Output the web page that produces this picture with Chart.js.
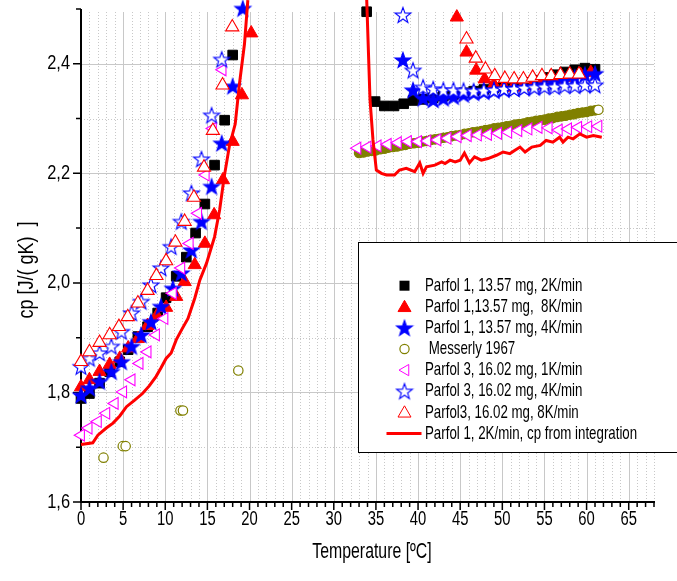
<!DOCTYPE html>
<html>
<head>
<meta charset="utf-8">
<script src="https://cdn.jsdelivr.net/npm/chart.js@4/dist/chart.umd.min.js"></script>
<style>
html,body{margin:0;padding:0;background:#fff;}
#wrap{width:677px;height:581px;position:relative;}
</style>
</head>
<body>
<div id="wrap"><canvas id="c"></canvas></div>
<script>
// ---------- DATA ----------
const xTickValues = [0,5,10,15,20,25,30,35,40,45,50,55,60,65];
const xTickLabels = ['0','5','10','15','20','25','30','35','40','45','50','55','60','65'];
const yTickValues = [1.6,1.8,2.0,2.2,2.4];
const yTickLabels = ['1,6','1,8','2,0','2,2','2,4'];
const xTitle = 'Temperature [ºC]';
const yTitle = 'cp [J/( gK)  ]';

const legendLabels = [
  'Parfol 1, 13.57 mg, 2K/min',
  'Parfol 1,13.57 mg,  8K/min',
  'Parfol 1, 13.57 mg, 4K/min',
  ' Messerly 1967',
  'Parfol 3, 16.02 mg, 1K/min',
  'Parfol 3, 16.02 mg, 4K/min',
  'Parfol3, 16.02 mg, 8K/min',
  'Parfol 1, 2K/min, cp from integration'
];

// Parfol 1, 13.57 mg, 2K/min (black squares)
const p1_2K = [[0,1.789],[1.0,1.798],[2.2,1.817],[3.4,1.838],[4.6,1.856],[5.6,1.878],[6.75,1.902],[7.9,1.920],[9.1,1.945],[10.1,1.973],[11.3,2.012],[12.5,2.047],[13.6,2.091],[14.7,2.144],[15.85,2.215],[17.05,2.297],[18.0,2.416],
  [33.9,2.495],[34.9,2.331],[36.0,2.323],[37.15,2.323],[38.3,2.327],[39.4,2.333],[40.6,2.335],[41.8,2.338],[43.0,2.341],[44.2,2.344],[45.4,2.347],[46.6,2.350],[47.8,2.353],[49.0,2.356],[50.2,2.359],[51.4,2.362],[52.6,2.366],[53.8,2.370],[55.0,2.375],[56.2,2.380],[57.4,2.385],[58.6,2.389],[59.8,2.392],[61.0,2.390]];

// Parfol 1,13.57 mg, 8K/min (red filled triangles)
const p1_8K = [[0,1.810],[1.0,1.823],[2.2,1.838],[3.4,1.851],[4.6,1.862],[5.6,1.881],[6.75,1.898],[7.9,1.922],[9.0,1.940],[10.1,1.955],[11.3,1.975],[12.3,2.002],[13.5,2.033],[14.7,2.072],[15.8,2.124],[16.85,2.188],[18.0,2.258],[19.1,2.343],[20.2,2.456],
  [44.6,2.485],[45.75,2.421],[46.9,2.388],[47.9,2.372],[49.0,2.362],[50.2,2.358],[51.3,2.357],[52.4,2.358],[53.6,2.360],[54.7,2.362],[55.9,2.366],[57.0,2.370],[58.2,2.375],[59.3,2.380],[60.5,2.384]];

// Parfol 1, 13.57 mg, 4K/min (blue filled stars)
const p1_4K = [[0,1.795],[1.0,1.808],[2.2,1.820],[3.6,1.838],[4.8,1.856],[6.0,1.884],[7.15,1.905],[8.3,1.929],[9.5,1.957],[10.9,1.990],[11.9,2.018],[13.1,2.060],[14.3,2.112],[15.5,2.176],[16.7,2.255],[18.0,2.359],[19.2,2.501],
  [38.2,2.407],[39.4,2.352],[40.6,2.337],[41.8,2.334],[43.0,2.337],[44.2,2.340],[45.4,2.344],[46.6,2.347],[47.8,2.349],[49.0,2.351],[50.2,2.353],[51.4,2.355],[52.6,2.357],[53.8,2.358],[55.0,2.362],[56.2,2.366],[57.4,2.370],[58.6,2.375],[59.8,2.380],[61.0,2.382]];

// Messerly 1967 (olive circles)
const messerly = [[2.67,1.681],[4.96,1.702],[5.3,1.702],[11.8,1.767],[12.1,1.767],[18.67,1.840],
  [33.0,2.237],[33.5,2.238],[34.0,2.240],[34.5,2.241],[35.0,2.242],[35.5,2.244],[36.0,2.245],[36.5,2.247],[37.0,2.248],[37.5,2.249],[38.0,2.251],[38.5,2.252],[39.0,2.254],[39.5,2.255],[40.0,2.256],[40.5,2.258],[41.0,2.259],[41.5,2.261],[42.0,2.262],[42.5,2.263],[43.0,2.265],[43.5,2.266],[44.0,2.268],[44.5,2.269],[45.0,2.270],[45.5,2.272],[46.0,2.273],[46.5,2.275],[47.0,2.276],[47.5,2.277],[48.0,2.279],[48.5,2.280],[49.0,2.282],[49.5,2.283],[50.0,2.284],[50.5,2.286],[51.0,2.287],[51.5,2.289],[52.0,2.290],[52.5,2.291],[53.0,2.293],[53.5,2.294],[54.0,2.296],[54.5,2.297],[55.0,2.298],[55.5,2.300],[56.0,2.301],[56.5,2.303],[57.0,2.304],[57.5,2.305],[58.0,2.307],[58.5,2.308],[59.0,2.310],[59.5,2.311],[60.0,2.312],[60.5,2.314],[61.0,2.315],[61.4,2.316]];

// Parfol 3, 16.02 mg, 1K/min (magenta open left triangles)
const p3_1K = [[0,1.722],[0.9,1.735],[2.0,1.747],[3.0,1.762],[4.0,1.780],[5.0,1.801],[6.0,1.823],[6.95,1.853],[7.9,1.874],[8.9,1.905],[9.9,1.935],[10.9,1.981],[11.9,2.027],[12.9,2.072],[13.9,2.127],[14.8,2.197],[15.65,2.282],[16.8,2.389],
  [32.8,2.246],[34.0,2.248],[35.2,2.250],[36.4,2.253],[37.6,2.256],[38.8,2.258],[40.0,2.258],[41.1,2.259],[42.3,2.261],[43.5,2.264],[44.7,2.267],[45.9,2.269],[47.1,2.270],[48.3,2.271],[49.5,2.273],[50.7,2.275],[51.9,2.278],[53.1,2.281],[54.3,2.284],[55.5,2.283],[56.7,2.279],[57.8,2.281],[59.0,2.284],[60.2,2.285],[61.4,2.286]];

// Parfol 3, 16.02 mg, 4K/min (blue open stars)
const p3_4K = [[0,1.847],[1.0,1.862],[2.2,1.872],[3.6,1.884],[4.8,1.911],[6.0,1.945],[7.15,1.966],[8.3,1.996],[9.5,2.027],[10.7,2.066],[11.9,2.112],[13.1,2.164],[14.3,2.226],[15.5,2.306],[16.7,2.408],
  [38.2,2.489],[39.4,2.388],[40.6,2.357],[41.8,2.354],[43.0,2.352],[44.2,2.352],[45.4,2.351],[46.6,2.350],[47.8,2.351],[49.0,2.352],[50.2,2.354],[51.4,2.354],[52.6,2.356],[53.8,2.357],[55.0,2.358],[56.2,2.358],[57.4,2.360],[58.6,2.360],[59.8,2.361],[61.0,2.361]];

// Parfol3, 16.02 mg, 8K/min (red open triangles)
const p3_8K = [[0,1.856],[1.0,1.874],[2.2,1.891],[3.4,1.905],[4.5,1.920],[5.55,1.938],[6.75,1.963],[7.9,1.986],[8.95,2.013],[10.1,2.040],[11.2,2.074],[12.3,2.112],[13.4,2.156],[14.6,2.211],[15.65,2.278],[16.8,2.361],[17.95,2.467],
  [45.75,2.445],[46.85,2.410],[48.0,2.390],[49.1,2.378],[50.3,2.373],[51.4,2.372],[52.5,2.372],[53.6,2.375],[54.7,2.378],[55.8,2.378],[56.9,2.380],[58.0,2.381],[59.1,2.381]];

// Parfol 1, 2K/min, cp from integration (red line; null = gap)
const integ = [[0,1.705],[1.4,1.708],[2.0,1.722],[3.0,1.735],[3.8,1.744],[4.6,1.757],[5.4,1.774],[6.3,1.785],[7.3,1.798],[8.1,1.812],[8.9,1.829],[9.5,1.845],[10.1,1.862],[10.7,1.872],[11.3,1.896],[12.0,1.916],[12.7,1.935],[13.5,1.972],[14.1,2.005],[14.9,2.036],[15.85,2.084],[16.45,2.133],[17.0,2.194],[17.6,2.249],[18.3,2.290],[18.8,2.363],[19.4,2.436],[19.8,2.516],
  [26,null],
  [33.9,2.52],[34.3,2.334],[34.65,2.261],[35.05,2.206],[35.65,2.200],[36.25,2.197],[37.2,2.197],[37.8,2.206],[38.6,2.209],[39.6,2.203],[40.2,2.219],[40.6,2.200],[41.0,2.212],[42.0,2.215],[42.8,2.221],[43.2,2.218],[43.8,2.224],[44.4,2.221],[45.0,2.224],[45.5,2.237],[46.1,2.219],[46.7,2.230],[47.5,2.224],[48.3,2.227],[49.3,2.233],[50.1,2.239],[50.9,2.236],[51.5,2.242],[52.1,2.248],[52.7,2.239],[53.5,2.248],[54.5,2.251],[55.2,2.260],[56.0,2.257],[56.8,2.266],[57.2,2.257],[57.8,2.266],[58.4,2.263],[59.2,2.272],[60.0,2.266],[60.8,2.269],[61.8,2.266]];

// ---------- helpers ----------
const FONT = '"Liberation Sans", Arial, Helvetica, sans-serif';
const RED = '#ff0000', BLUE = '#0000ff', OLIVE = '#808000', MAGENTA = '#ff00ff';
const toXY = a => a.map(p => ({x: p[0], y: p[1]}));

function starPath(ctx, cx, cy, R, r) {
  ctx.beginPath();
  for (let i = 0; i < 10; i++) {
    const a = -Math.PI / 2 + i * Math.PI / 5;
    const rad = i % 2 === 0 ? R : r;
    const px = cx + Math.cos(a) * rad, py = cy + Math.sin(a) * rad;
    if (i === 0) ctx.moveTo(px, py); else ctx.lineTo(px, py);
  }
  ctx.closePath();
}
function makeStar(fill, stroke) {
  const cv = document.createElement('canvas');
  cv.width = 20; cv.height = 20;
  const g = cv.getContext('2d');
  starPath(g, 10, 10.7, 8.3, 3.3);
  g.fillStyle = fill; g.fill();
  g.lineWidth = 1.1; g.strokeStyle = stroke; g.stroke();
  return cv;
}
const starFilled = makeStar(BLUE, BLUE);
const starOpen = makeStar('#ffffff', BLUE);

function triPath(ctx, x, y, r, rotDeg) {
  let rad = rotDeg * Math.PI / 180;
  ctx.beginPath();
  for (let i = 0; i < 3; i++) {
    const px = x + Math.sin(rad) * r, py = y - Math.cos(rad) * r;
    if (i === 0) ctx.moveTo(px, py); else ctx.lineTo(px, py);
    rad += 2 * Math.PI / 3;
  }
  ctx.closePath();
}

function text(ctx, str, x, y, size, sx, align, rot) {
  ctx.save();
  ctx.translate(x, y);
  if (rot) ctx.rotate(rot);
  ctx.scale(sx, 1);
  ctx.font = size + 'px ' + FONT;
  ctx.fillStyle = '#000';
  ctx.textAlign = align;
  ctx.textBaseline = 'middle';
  ctx.fillText(str, 0, 0);
  ctx.restore();
}

// ---------- plugins: grid, axes, legend ----------
const gridPlugin = {
  id: 'gridPlugin',
  beforeDatasetsDraw(chart) {
    const ctx = chart.ctx, xs = chart.scales.x, ys = chart.scales.y, a = chart.chartArea;
    ctx.save();
    for (let v = 1; v <= 68; v++) {
      const px = Math.round(xs.getPixelForValue(v)) + 0.5;
      ctx.beginPath();
      if (v % 5 === 0) { ctx.setLineDash([]); ctx.strokeStyle = '#c8c8c8'; }
      else { ctx.setLineDash([1, 2]); ctx.strokeStyle = '#c8c8c8'; }
      ctx.lineWidth = 1;
      ctx.moveTo(px, a.top + 3); ctx.lineTo(px, a.bottom);
      ctx.stroke();
    }
    for (let k = 17; k <= 24; k++) {
      const py = Math.round(ys.getPixelForValue(k / 10)) + 0.5;
      ctx.beginPath();
      if (k % 2 === 0) { ctx.setLineDash([]); ctx.strokeStyle = '#c8c8c8'; }
      else { ctx.setLineDash([1, 2]); ctx.strokeStyle = '#c8c8c8'; }
      ctx.moveTo(a.left, py); ctx.lineTo(a.right, py);
      ctx.stroke();
    }
    ctx.setLineDash([]);
    ctx.strokeStyle = '#000'; ctx.lineWidth = 2;
    ctx.beginPath();
    ctx.moveTo(a.left, a.top); ctx.lineTo(a.left, a.bottom + 1);
    ctx.moveTo(a.left - 1, a.bottom); ctx.lineTo(a.right + 1, a.bottom);
    ctx.stroke();
    ctx.lineWidth = 1.5;
    ctx.beginPath();
    for (let v = 0; v <= 68; v++) {
      const px = xs.getPixelForValue(v);
      const len = v % 5 === 0 ? 8 : 5;
      ctx.moveTo(px, a.bottom); ctx.lineTo(px, a.bottom + len);
    }
    for (let k = 16; k <= 25; k++) {
      const py = ys.getPixelForValue(k / 10);
      const len = k % 2 === 0 ? 8 : 5;
      ctx.moveTo(a.left, py); ctx.lineTo(a.left - len, py);
    }
    ctx.stroke();
    xTickValues.forEach((v, i) => text(ctx, xTickLabels[i], xs.getPixelForValue(v), a.bottom + 17, 20, 0.74, 'center'));
    yTickValues.forEach((v, i) => text(ctx, yTickLabels[i], a.left - 11, ys.getPixelForValue(v), 20, 0.82, 'right'));
    text(ctx, xTitle, 372, 552, 22, 0.72, 'center');
    text(ctx, yTitle, 27, 270, 22, 0.82, 'center', -Math.PI / 2);
    ctx.restore();
  }
};

const legendPlugin = {
  id: 'legendPlugin',
  afterDraw(chart) {
    const ctx = chart.ctx;
    ctx.save();
    ctx.fillStyle = '#fff';
    ctx.fillRect(358.5, 242.5, 330, 210);
    ctx.strokeStyle = '#000'; ctx.lineWidth = 1;
    ctx.strokeRect(358.5, 242.5, 330, 210);
    const sx = 404.5, tx = 425, y0 = 285.7, dy = 21.1;
    for (let i = 0; i < legendLabels.length; i++) {
      const y = y0 + i * dy;
      ctx.lineWidth = 1;
      if (i === 0) { ctx.fillStyle = '#000'; ctx.fillRect(sx - 5, y - 5, 10, 10); }
      else if (i === 1) { triPath(ctx, sx, y + 1, 7.5, 0); ctx.fillStyle = RED; ctx.strokeStyle = RED; ctx.fill(); ctx.stroke(); }
      else if (i === 2) { ctx.drawImage(starFilled, sx - 10, y - 10); }
      else if (i === 3) { ctx.beginPath(); ctx.arc(sx, y, 4.6, 0, Math.PI * 2); ctx.fillStyle = '#fff'; ctx.fill(); ctx.strokeStyle = OLIVE; ctx.lineWidth = 1.2; ctx.stroke(); }
      else if (i === 4) { triPath(ctx, sx + 1, y, 6.5, -90); ctx.fillStyle = '#fff'; ctx.strokeStyle = MAGENTA; ctx.fill(); ctx.stroke(); }
      else if (i === 5) { ctx.drawImage(starOpen, sx - 10, y - 10); }
      else if (i === 6) { triPath(ctx, sx, y + 1, 7.5, 0); ctx.fillStyle = '#fff'; ctx.strokeStyle = RED; ctx.fill(); ctx.stroke(); }
      else { ctx.beginPath(); ctx.strokeStyle = RED; ctx.lineWidth = 3; ctx.moveTo(386.5, y); ctx.lineTo(421.5, y); ctx.stroke(); }
      text(ctx, legendLabels[i], tx, y, 19, 0.7, 'left');
    }
    ctx.restore();
  }
};

// ---------- chart ----------
new Chart(document.getElementById('c'), {
  type: 'scatter',
  data: {
    datasets: [
      { label: legendLabels[0], data: toXY(p1_2K), pointStyle: 'rect', pointRadius: 6.8, pointBackgroundColor: '#000', pointBorderColor: '#000', pointBorderWidth: 1, order: 8, clip: false },
      { label: legendLabels[1], data: toXY(p1_8K), pointStyle: 'triangle', pointRadius: 7.6, pointBackgroundColor: RED, pointBorderColor: RED, pointBorderWidth: 1, order: 7, clip: false },
      { label: legendLabels[2], data: toXY(p1_4K), pointStyle: starFilled, pointRadius: 8, order: 6, clip: false },
      { label: legendLabels[3], data: toXY(messerly), pointStyle: 'circle', pointRadius: 4.7,
        pointBackgroundColor: c => (c.raw && c.raw.x > 30 && c.dataIndex !== messerly.length - 1) ? OLIVE : '#ffffff',
        pointBorderColor: OLIVE, pointBorderWidth: 1.2, order: 5, clip: false },
      { label: legendLabels[4], data: toXY(p3_1K), pointStyle: 'triangle', pointRotation: -90, pointRadius: 6.8, pointBackgroundColor: '#fff', pointBorderColor: MAGENTA, pointBorderWidth: 1.1, order: 4, clip: false },
      { label: legendLabels[5], data: toXY(p3_4K), pointStyle: starOpen, pointRadius: 8, order: 3, clip: false },
      { label: legendLabels[6], data: toXY(p3_8K), pointStyle: 'triangle', pointRadius: 7.6, pointBackgroundColor: '#fff', pointBorderColor: RED, pointBorderWidth: 1.1, order: 2, clip: false },
      { label: legendLabels[7], data: toXY(integ), showLine: true, spanGaps: false, borderColor: RED, borderWidth: 3, pointRadius: 0, tension: 0, fill: false, order: 1, clip: false }
    ]
  },
  options: {
    animation: false,
    responsive: true,
    maintainAspectRatio: false,
    devicePixelRatio: 1,
    events: [],
    layout: { padding: { left: 81, top: 9, right: 23, bottom: 79 } },
    plugins: { legend: { display: false }, tooltip: { enabled: false } },
    scales: {
      x: { type: 'linear', display: false, min: 0, max: 68 },
      y: { type: 'linear', display: false, min: 1.6, max: 2.5 }
    }
  },
  plugins: [gridPlugin, legendPlugin]
});
</script>
</body>
</html>
